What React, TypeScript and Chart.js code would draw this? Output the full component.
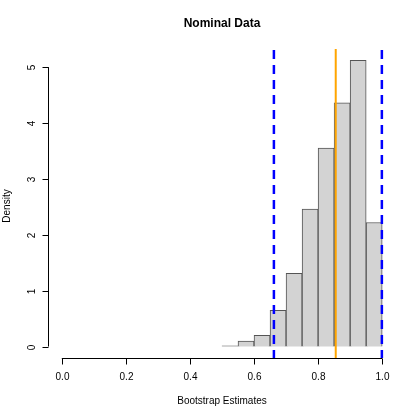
import React, { useEffect, useRef } from "react";
import { Chart, registerables } from "chart.js";

Chart.register(...registerables);

const binStarts = [0.5, 0.55, 0.6, 0.65, 0.7, 0.75, 0.8, 0.85, 0.9, 0.95];
const binWidth = 0.05;
const densities = [0.015, 0.1, 0.2, 0.65, 1.31, 2.46, 3.55, 4.36, 5.12, 2.22];
const xTicks = [0, 0.2, 0.4, 0.6, 0.8, 1.0];
const xTickLabels = ["0.0", "0.2", "0.4", "0.6", "0.8", "1.0"];
const yTicks = [0, 1, 2, 3, 4, 5];
const ciLines = [0.662, 0.999];
const pointEstimate = [0.855];

const FONT = "'Liberation Sans', Arial, Helvetica, sans-serif";

export default function App() {
  const ref = useRef<HTMLCanvasElement | null>(null);
  useEffect(() => {
    document.body.style.margin = "0";
    document.body.style.overflow = "hidden";
    const canvas = ref.current;
    if (!canvas) return;
    const ymax = Math.max(...densities);
    const yPad = ymax * 0.04;

    const rAxes = {
      id: "rAxes",
      afterDraw(chart: any) {
        const ctx = chart.ctx;
        const xs = chart.scales.x;
        const ys = chart.scales.y;
        const area = chart.chartArea;
        ctx.save();
        // vertical lines
        ctx.lineCap = "butt";
        ctx.strokeStyle = "#0000FF";
        ctx.lineWidth = 2.5;
        ctx.setLineDash([9, 6]);
        for (const v of ciLines) {
          const px = xs.getPixelForValue(v);
          ctx.beginPath();
          ctx.moveTo(px, area.top + 1);
          ctx.lineTo(px, area.bottom);
          ctx.stroke();
        }
        ctx.setLineDash([]);
        ctx.strokeStyle = "#FFA500";
        ctx.lineWidth = 2;
        for (const v of pointEstimate) {
          const px = xs.getPixelForValue(v);
          ctx.beginPath();
          ctx.moveTo(px, area.top);
          ctx.lineTo(px, area.bottom);
          ctx.stroke();
        }
        // axes
        ctx.strokeStyle = "#000";
        ctx.lineWidth = 1;
        ctx.fillStyle = "#000";
        ctx.font = `10px ${FONT}`;
        const axY = area.bottom + 0.5;
        const x0 = xs.getPixelForValue(xTicks[0]);
        const x1 = xs.getPixelForValue(xTicks[xTicks.length - 1]);
        ctx.beginPath();
        ctx.moveTo(x0, axY);
        ctx.lineTo(x1, axY);
        ctx.stroke();
        ctx.textAlign = "center";
        ctx.textBaseline = "middle";
        xTicks.forEach((t, i) => {
          const px = Math.round(xs.getPixelForValue(t)) + 0.5;
          ctx.beginPath();
          ctx.moveTo(px, axY);
          ctx.lineTo(px, axY + 6);
          ctx.stroke();
          ctx.fillText(xTickLabels[i], px, 377);
        });
        const axX = area.left - 0.5;
        const y0 = ys.getPixelForValue(yTicks[0]);
        const y1 = ys.getPixelForValue(yTicks[yTicks.length - 1]);
        ctx.beginPath();
        ctx.moveTo(axX, y0);
        ctx.lineTo(axX, y1);
        ctx.stroke();
        yTicks.forEach((t) => {
          const py = Math.round(ys.getPixelForValue(t)) + 0.5;
          ctx.beginPath();
          ctx.moveTo(axX, py);
          ctx.lineTo(axX - 6, py);
          ctx.stroke();
          ctx.save();
          ctx.translate(32, py);
          ctx.rotate(-Math.PI / 2);
          ctx.fillText(String(t), 0, 0);
          ctx.restore();
        });
        // labels
        const cx = (area.left + area.right) / 2;
        ctx.fillText("Bootstrap Estimates", cx, 401);
        ctx.save();
        ctx.translate(7, 206);
        ctx.rotate(-Math.PI / 2);
        ctx.fillText("Density", 0, 0);
        ctx.restore();
        ctx.font = `bold 12px ${FONT}`;
        ctx.fillText("Nominal Data", cx, 24);
        ctx.restore();
      },
    };

    const chart = new Chart(canvas, {
      type: "bar",
      data: {
        datasets: [
          {
            data: binStarts.map((s, i) => ({ x: s + binWidth / 2, y: densities[i] })),
            backgroundColor: "#D3D3D3",
            borderColor: "#555555",
            borderWidth: 1,
            borderSkipped: "bottom",
            barPercentage: 1,
            categoryPercentage: 1,
          },
        ],
      },
      options: {
        animation: false,
        responsive: false,
        maintainAspectRatio: false,
        layout: { padding: { left: 49, right: 25, top: 49, bottom: 62 } },
        plugins: { legend: { display: false }, tooltip: { enabled: false }, title: { display: false } },
        scales: {
          x: { type: "linear", min: -0.04, max: 1.04, display: false, offset: false },
          y: { type: "linear", min: -yPad, max: ymax + yPad, display: false },
        },
      },
      plugins: [rAxes],
    });
    return () => chart.destroy();
  }, []);
  return (
    <div style={{ width: 420, height: 420 }}>
      <canvas ref={ref} width={420} height={420} style={{ display: "block" }} />
    </div>
  );
}
